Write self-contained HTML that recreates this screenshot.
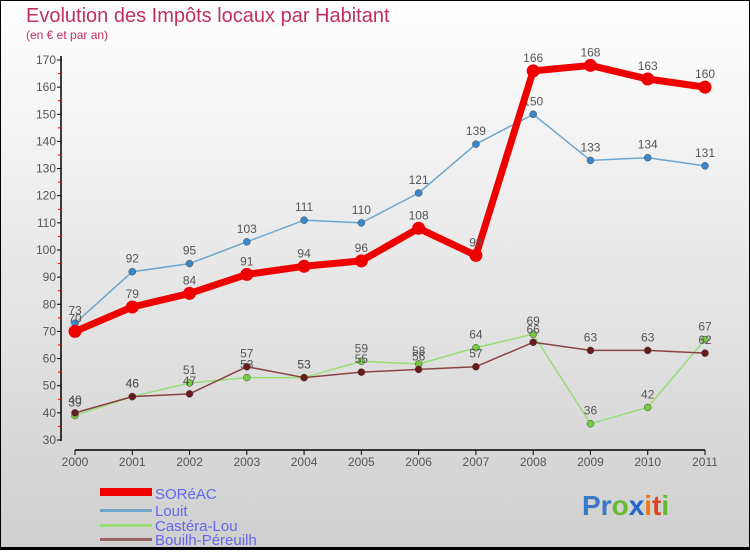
<!DOCTYPE html>
<html><head><meta charset="utf-8">
<style>
html,body{margin:0;padding:0}
body{width:750px;height:550px;overflow:hidden;font-family:"Liberation Sans",sans-serif}
svg text{font-family:"Liberation Sans",sans-serif}
</style></head>
<body>
<svg id="chart" width="750" height="550" xmlns="http://www.w3.org/2000/svg">
<defs><linearGradient id="bg" x1="0" y1="0" x2="0" y2="1"><stop offset="0" stop-color="#ffffff"/><stop offset="1" stop-color="#cfcfcf"/></linearGradient></defs>
<rect x="0.5" y="0.5" width="749" height="549" fill="url(#bg)" stroke="#000"/>
<text x="26" y="22" font-size="20" fill="#c0305a">Evolution des Impôts locaux par Habitant</text>
<text x="26" y="39" font-size="12" fill="#c0305a">(en € et par an)</text>
<g id="axes"></g>
<g id="series"></g>
<g>
<rect x="100" y="488" width="52" height="8" fill="#ee0000"/>
<text x="155" y="499" font-size="15" fill="#6666ee">SORéAC</text>
<rect x="100" y="509" width="52" height="3" fill="#6ea6cc"/>
<text x="155" y="516" font-size="15" fill="#6666ee">Louit</text>
<rect x="100" y="524" width="52" height="3" fill="#99dd77"/>
<text x="155" y="531" font-size="15" fill="#6666ee">Castéra-Lou</text>
<rect x="100" y="538" width="52" height="3" fill="#996666"/>
<text x="155" y="545" font-size="15" fill="#6666ee">Bouilh-Péreuilh</text>
</g>
<text x="582" y="515" font-size="28" font-weight="bold"><tspan fill="#3a78c8">Pr</tspan><tspan fill="#66bb33">o</tspan><tspan fill="#2266cc">x</tspan><tspan fill="#ee7711">i</tspan><tspan fill="#dd4422">t</tspan><tspan fill="#66bb33">i</tspan></text>
<rect x="0" y="547" width="750" height="3" fill="#000"/>
</svg>
<script>
const years=[2000,2001,2002,2003,2004,2005,2006,2007,2008,2009,2010,2011];
const yTicks=[30,40,50,60,70,80,90,100,110,120,130,140,150,160,170];
const soreac=[70,79,84,91,94,96,108,98,166,168,163,160];
const louit=[73,92,95,103,111,110,121,139,150,133,134,131];
const castera=[39,46,51,53,53,59,58,64,69,36,42,67];
const bouilh=[40,46,47,57,53,55,56,57,66,63,63,62];
const NS="http://www.w3.org/2000/svg";
function X(i){return 75+i*(630/11);}
function Y(v){return 440-(v-30)*(380/140);}
function mk(tag,attrs,parent,txt){const e=document.createElementNS(NS,tag);for(const k in attrs)e.setAttribute(k,attrs[k]);if(txt!==undefined)e.textContent=txt;parent.appendChild(e);return e;}
const ax=document.getElementById('axes');
const yl=mk('line',{x1:61,y1:56,x2:61,y2:441,stroke:'#000','stroke-width':1.5},ax);


yTicks.forEach((t,i)=>{
  mk('line',{x1:57,y1:Y(t),x2:61,y2:Y(t),stroke:'#000'},ax);
  if(i<yTicks.length-1) mk('line',{x1:58,y1:Y(t+5),x2:61,y2:Y(t+5),stroke:'#e00'},ax);
  const tx=mk('text',{x:56,y:Y(t)+4,'font-size':12,'text-anchor':'end',fill:'#555'},ax,String(t));
  
  
});
const xl=mk('line',{x1:75,y1:450,x2:705,y2:450,stroke:'#000','stroke-width':1.5},ax);


years.forEach((y,i)=>{
  mk('line',{x1:X(i),y1:450,x2:X(i),y2:455,stroke:'#000'},ax);
  const tx=mk('text',{x:X(i),y:466,'font-size':12,'text-anchor':'middle',fill:'#555'},ax,String(y));
  
  
});
const sg=document.getElementById('series');
function draw(data,name,col,lw,ptc,r){
  const g=mk('g',{},sg);
  
  
  mk('polyline',{points:data.map((v,i)=>X(i)+','+Y(v)).join(' '),fill:'none',stroke:col,'stroke-width':lw,'stroke-linejoin':'round'},g);
  data.forEach((v,i)=>{
    const c=mk('circle',{cx:X(i),cy:Y(v),r:r,fill:ptc,stroke:r>4?'none':'#444','stroke-width':0.5},g);
    
    
    const t=mk('text',{x:X(i),y:Y(v)-9,'font-size':12,'text-anchor':'middle',fill:'#555'},g,String(v));
    
    
  });
}
draw(castera,'castera-lou','#99dd77',1.5,'#77cc44',3.5);
draw(bouilh,'bouilh-pereuilh','#884444',1.5,'#6a1a1a',3.5);
draw(louit,'louit','#6ea6cc',1.5,'#3a88cc',3.5);
draw(soreac,'soreac','#ee0000',7,'#ee0000',6.5);
</script>
</body></html>
